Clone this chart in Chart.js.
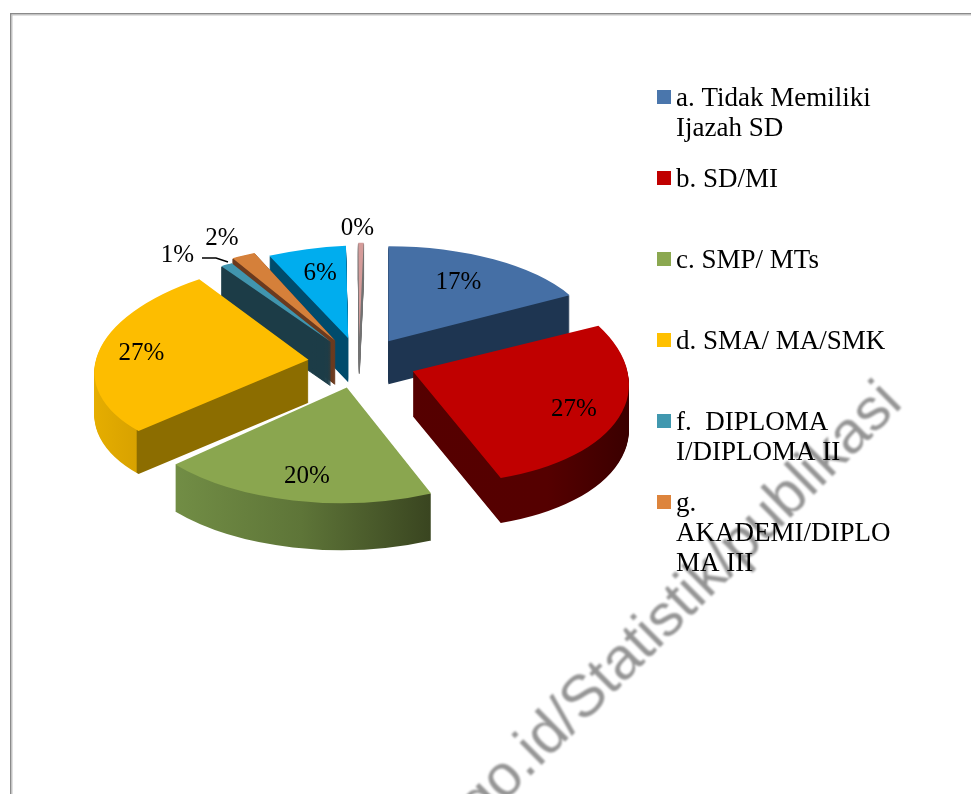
<!DOCTYPE html>
<html>
<head>
<meta charset="utf-8">
<style>html,body{margin:0;padding:0;background:#fff;overflow:hidden}canvas{display:block}</style>
<script src="https://cdn.jsdelivr.net/npm/chart.js@4/dist/chart.umd.min.js"></script>
</head>
<body>
<canvas id="c" width="971" height="794"></canvas>
<script>
// ---- data ----
const categories = ['a. Tidak Memiliki Ijazah SD','b. SD/MI','c. SMP/ MTs','d. SMA/ MA/SMK','f. DIPLOMA I/DIPLOMA II','g. AKADEMI/DIPLOMA III','DIPLOMA IV/S1','S2/S3'];
const shares = [17, 27, 20, 27, 1, 2, 6, 0.4];
const percentLabels = ['17%','27%','20%','27%','1%','2%','6%','0%'];
const legendLines = [['a. Tidak Memiliki','Ijazah SD'],['b. SD/MI'],['c. SMP/ MTs'],['d. SMA/ MA/SMK'],['f.  DIPLOMA','I/DIPLOMA II'],['g.','AKADEMI/DIPLO','MA III']];
const watermarkText = 'go.id/Statistik/publikasi';

// ---- styling ----
const topColors = ['#456FA5','#C00000','#8AA64F','#FDBD00','#4195AE','#D5803A','#00ADEE','#D59C9A'];
const legendColors = ['#4A76AC','#C00000','#8BA850','#FFC000','#4198AF','#DD843C'];
const wallStops = [
  [[0,'#1E3551'],[1,'#1E3551']],
  [[0,'#560000'],[0.8,'#550000'],[1,'#3A0000']],
  [[0.10,'#738F46'],[0.40,'#5E7538'],[0.70,'#38431F']],
  [[0,'#E6AE00'],[0.114,'#D8A200'],[0.116,'#8C6D00'],[1,'#8C6D00']],
  [[0,'#1C3C47'],[1,'#1C3C47']],
  [[0,'#6B3A1E'],[1,'#6B3A1E']],
  [[0,'#004B6C'],[1,'#004B6C']],
  [[0,'#8F8F8F'],[1,'#555555']]
];
const depth =     [43, 45, 47, 43, 44, 44, 44, 36];
const wallStroke =[0, 0, 0, 0, 1.5, 1.5, 0, 1];
// per-slice projection of the tilted disc: [a, b, c, d] of the canvas transform
const projection = [
  [0.96, 0, 0, 0.44],
  [1.0, 0.045, 0.031, 0.515],
  [1.042, -0.0125, -0.004, 0.535],
  [0.99, -0.032, -0.0525, 0.47],
  [0.91, 0, 0, 0.42],
  [0.91, 0, 0.02, 0.44],
  [0.97, -0.035, -0.014, 0.43],
  [0.97, 0, -0.02, 0.44]
];
const explode =  [56, 56, 56, 52, 56, 56, 56, 56];
const drawOrder = [7, 6, 0, 5, 4, 3, 1, 2];
const tilt = 0.45, radius = 216;
const labelOffsets = [[70,-59],[161,38],[-40,89],[-167,-6],[-153,-86],[-113,-102],[-28,-65],[-2,-109]];
const font = '"Liberation Serif", "Times New Roman", serif';

function place(arc, i, d) {
  const mid = (arc.startAngle + arc.endAngle) / 2;
  return {
    x: arc.x + explode[i] * Math.cos(mid),
    y: arc.y + explode[i] * tilt * Math.sin(mid) + d
  };
}

const pie3d = {
  id: 'pie3d',
  beforeDatasetsDraw(chart) {
    const ctx = chart.ctx;
    const arcs = chart.getDatasetMeta(0).data;
    drawOrder.forEach(i => {
      const arc = arcs[i];
      const saved = arc.options;
      const g = ctx.createLinearGradient(arc.x - radius, 0, arc.x + radius, 0);
      wallStops[i].forEach(s => g.addColorStop(s[0], s[1]));
      const m = projection[i];
      for (let d = depth[i]; d >= 0; d--) {
        const p = place(arc, i, d);
        arc.options = Object.assign({}, saved, d === 0
          ? { backgroundColor: topColors[i], borderWidth: 0 }
          : { backgroundColor: g, borderColor: g, borderWidth: wallStroke[i] });
        ctx.save();
        ctx.translate(p.x, p.y);
        ctx.transform(m[0], m[1], m[2], m[3], 0, 0);
        ctx.translate(-arc.x, -arc.y);
        arc.draw(ctx);
        ctx.restore();
      }
      arc.options = saved;
    });
    return false;
  },
  afterDraw(chart) {
    const ctx = chart.ctx;
    const arcs = chart.getDatasetMeta(0).data;
    ctx.save();
    // frame
    ctx.fillStyle = '#8A8A8A';
    ctx.fillRect(10, 13, 961, 1.5);
    ctx.fillRect(10, 13, 1.5, 781);
    ctx.fillStyle = '#C4C4C4';
    ctx.fillRect(11.5, 14.5, 960, 1);
    ctx.fillRect(11.5, 14.5, 1, 780);
    // watermark
    ctx.save();
    ctx.translate(904, 405);
    ctx.rotate(-44.8 * Math.PI / 180);
    ctx.font = '59px "Liberation Sans", Arial, sans-serif';
    ctx.textAlign = 'right';
    ctx.textBaseline = 'alphabetic';
    ctx.fillStyle = '#959595';
    ctx.filter = 'blur(1px)';
    ctx.fillText(watermarkText, 0, 0);
    ctx.restore();
    // percent labels
    ctx.font = '25px ' + font;
    ctx.fillStyle = '#000';
    ctx.textAlign = 'center';
    ctx.textBaseline = 'middle';
    percentLabels.forEach((t, i) => {
      const p = place(arcs[i], i, 0);
      ctx.fillText(t, p.x + labelOffsets[i][0], p.y + labelOffsets[i][1]);
    });
    // leader line of the 1% label
    ctx.strokeStyle = '#000';
    ctx.lineWidth = 1.5;
    ctx.beginPath();
    ctx.moveTo(202, 258);
    ctx.lineTo(216, 258);
    ctx.lineTo(228, 262);
    ctx.stroke();
    // legend
    ctx.font = '27px ' + font;
    ctx.textAlign = 'left';
    ctx.textBaseline = 'alphabetic';
    legendLines.forEach((lines, i) => {
      const top = 90 + i * 81;
      ctx.fillStyle = legendColors[i];
      ctx.fillRect(657, top, 14, 14);
      ctx.fillStyle = '#000';
      lines.forEach((t, j) => ctx.fillText(t, 676, top + 16 + j * 30));
    });
    ctx.restore();
  }
};

new Chart(document.getElementById('c'), {
  type: 'pie',
  data: {
    labels: categories,
    datasets: [{ data: shares, backgroundColor: topColors, borderWidth: 0, hoverOffset: 0 }]
  },
  options: {
    responsive: false,
    animation: false,
    radius: radius,
    layout: { padding: { left: 0, top: 0, right: 251, bottom: 68 } },
    plugins: { legend: { display: false }, tooltip: { enabled: false } },
    events: []
  },
  plugins: [pie3d]
});
</script>
</body>
</html>
